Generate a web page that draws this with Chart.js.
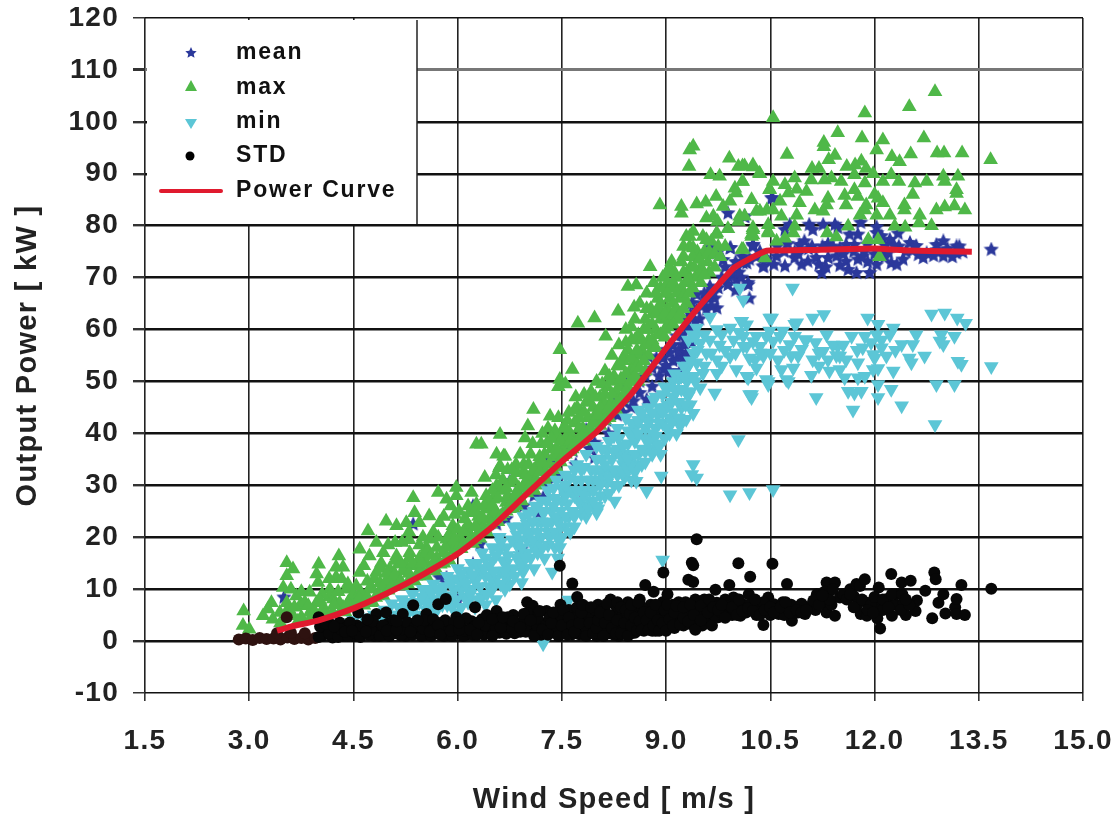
<!DOCTYPE html>
<html>
<head>
<meta charset="utf-8">
<title>Wind turbine power curve</title>
<script src="https://cdn.jsdelivr.net/npm/chart.js@4"></script>
<style>
    html, body { margin: 0; padding: 0; background: #fff; }
    canvas { display: block; }
</style>
</head>
<body>
<canvas id="powerChart" width="1117" height="819"></canvas>
<script>
// 坐标轴
var xTicks = ['1.5', '3.0', '4.5', '6.0', '7.5', '9.0', '10.5', '12.0', '13.5', '15.0'];
var yTicks = [-10, 0, 10, 20, 30, 40, 50, 60, 70, 80, 90, 100, 110, 120];
var legendNames = ['mean', 'max', 'min', 'STD', 'Power Curve'];

// 功率曲线
var curveX = [3.4, 3.6, 4.0, 4.5, 5.0, 5.5, 6.0, 6.5, 7.0, 7.5, 8.0, 8.5, 9.0, 9.45, 9.97, 10.2, 10.45, 10.6, 11.0, 12.0, 12.5, 13.4];
var curveY = [2.0, 2.8, 4.0, 6.3, 9.3, 12.8, 16.8, 22, 28.4, 34.6, 40.3, 47.6, 56.4, 64, 71.8, 73.6, 75.2, 75.2, 75.3, 75.6, 75.2, 75];

// mean 散点
var meanPoints = [
    [3.5,8.4],[5.36,22.5],[5.74,12.2],[5.84,12.2],[6,7.8],[6.22,26],[6.22,19.3],[6.32,18.6],[6.22,14.8],[6.56,22.5],[6.75,30.8],[6.87,28],[6.92,17.7],
    [6.9,27.9],[6.99,29.8],[7.16,24.7],[7.23,27.6],[7.1,31],[7.3,35],[7.4,34.3],[7.52,29.2],[7.66,36.6],[7.55,37],[7.75,39],[7.81,28.6],[7.85,40.7],
    [7.97,35.3],[7.97,38.2],[8.05,42],[8.17,40],[8.24,44.9],[8.3,46.5],[8.38,44],[8.43,50],[8.53,46.2],[8.55,51],[8.62,47.8],[8.72,46.5],[8.74,54.8],
    [8.7,51],[8.8,49],[8.86,54.5],[8.9,51],[8.96,52.3],[9.01,56.1],[9.05,52],[9.1,54],[9.15,54.2],[9.15,58.7],[9.2,55.5],[9.2,52],[9.25,57],[9.3,60],
    [9.37,57.4],[9.39,60],[9.3,62],[9.37,65.1],[9.44,63.8],[9.44,66.7],[9.58,63.8],[9.63,68.3],[9.73,64.1],[9.7,66],[9.63,75.7],[9.7,75],[9.73,74.7],
    [9.82,73.4],[9.89,68.6],[9.89,82.4],[9.93,75.7],[9.92,75.7],[9.9,70],[10.01,69.6],[10,67.5],[10.13,81.7],[10.11,72.8],[10.18,68.6],[10.2,66],[10.25,76],
    [10.25,76.3],[10.4,72.1],[10.53,85.3],[10.08,70],[10.18,69],[10.13,81.8],[10.16,72.8],[10.4,72.2],[10.4,73.8],[10.59,74.1],[10.71,72.2],[10.85,73.8],
    [11.04,73.1],[11.16,73.8],[11.33,73.8],[11.45,74.1],[11.59,73.1],[11.76,73.5],[11.83,74.1],[12.03,72.5],[12.24,72.8],[12.41,73.5],[12.63,74.4],
    [12.75,74.7],[12.99,74.1],[13.18,74.7],[13.27,74.9],[11.24,70.9],[11.62,71.5],[11.74,70.9],[11.93,70.9],[10.52,85.3],[11.06,80.2],[10.78,80.2],
    [11.26,80.2],[11.43,80.2],[11.47,79.6],[11.8,80.6],[12.03,79.7],[10.71,79.2],[11.11,79.2],[11.64,78.3],[11.76,78.3],[12.03,78.6],[12.1,78],[12.34,78.5],
    [12.22,77.3],[12.51,76.7],[10.25,76.3],[10.99,77],[10.92,76.3],[11.33,76.5],[11.59,76.3],[11.71,76.3],[12.99,77],[12.89,76.3],[13.18,76],[13.68,75.4],
    [10.7,75],[11.1,76],[11.5,75.6],[11.9,76.4],[12.15,76.2],[12.35,76],[12.55,75.2],[12.9,75.3],[10.9,74.5],[11.2,72.5],[11.5,72.3],[11.9,73],[12.15,74],[12.32,72.5],
    [8.95,54.5],[9,53],[9.05,55.5],[9.1,57],[9.1,51],[9.18,56],[9.22,59],[9.25,54.5],[9.28,58],[9.3,55.5],[9.33,60],[9.35,63],[9.42,61.5],[9.48,62],[9.52,65],[9.55,67],
    [9.6,66],[9.65,64.5],[9.68,67],[9.75,68],[9.8,70],[9.85,72],[9.95,71],[10,73],[10.05,71],[10.1,74],[10.2,73.5],[10.3,74],[10.35,75],[10.45,73.5],[10.55,72.5],[10.6,76],
    [10.75,76.5],[10.85,75],[10.95,72.5],[11.05,75.5],[11.25,76],[11.3,72],[11.4,76],[11.55,74.5],[11.7,75],[11.85,75],[12,74.5],[12.1,75],[12.2,74.8],[12.28,76.2],[12.45,75],
    [12.6,76.1],[12.7,73.8],[12.85,74.2],[13.05,75.5],[13.12,74],[13.22,76],[8.3,43.5],[8.5,45],[8.62,50],[8.8,52.5],[8.4,46],[8.15,42.5],[7.9,37],[7.7,34],[7.45,32],[7.3,30.5],
    [7.1,28],[6.95,26],[6.7,23.5]
];

// max 散点
var maxPoints = [
    [2.92,5.8],[2.91,3],[3,2.3],[3.2,4.9],[3.32,7.4],[3.27,6.2],[3.54,15.1],[3.63,13.9],[3.54,12.6],[3.49,10.3],[4,14.8],[3.97,12.9],[3.99,11.3],[4.29,16.4],
    [4.35,14.2],[4.25,14.2],[4.25,12.3],[4.33,12],[4.16,10],[3.87,9.4],[3.68,8.7],[3.54,7.4],[3.73,6.8],[3.97,7.4],[4.21,8.1],[4.4,10],[4.3,7.4],[4.06,6.2],
    [3.87,5.5],[3.63,4.9],[3.44,5.5],[3.34,4.2],[4.49,6.8],[4.64,8.1],[4.78,7.4],[4.93,8.7],[4.54,10.6],[4.73,10],[4.93,10.6],[5.12,11.3],[5.31,11.9],[5.6,13.9],
    [5.5,16.4],[5.79,17],[4.59,13.2],[4.73,16.4],[4.93,17],[5.12,16.4],[5.31,17],[4.83,13.2],[5.02,13.9],[5.21,13.5],[5.41,14.5],[4.59,17.7],[4.71,21.2],[4.83,19],
    [4.97,23.1],[5.12,22.2],[5.26,22.8],[5.36,27.6],[5.38,24.7],[5.45,22.8],[5.59,24.1],[5.74,22.8],[5.72,28.6],[5.84,27.3],[5.98,29.6],[5.98,28],[5.96,24.4],
    [6.2,28.6],[6.27,26.4],[5.93,22.2],[6.13,21.5],[5.84,19.6],[5.6,19.6],[6.27,37.9],[6.34,37.9],[6.56,36],[6.68,35.6],[6.6,33.4],[6.84,34],[6.94,32.4],[6.39,31.5],
    [6.56,29.9],[6.75,30.5],[6.51,27.3],[6.7,26.7],[6.41,25.4],[6.17,24.7],[6.56,24.1],[6.32,22.8],[6.41,28],[5.1,19],[5.3,19.5],[5.45,18.5],[4.9,15],[5.15,14.8],
    [5.7,16],[5.9,18.5],[6.05,19.5],[6.15,22.5],[6.3,21],[5.55,15],[6.61,39.8],[6.66,35.6],[6.61,33.7],[7.01,41.4],[6.97,39.1],[7.33,43.3],[7.09,44.6],
    [6.35,21.5],[6.5,24],[6.45,27],[6.62,29],[6.72,28],[6.8,27.5],[6.8,31],[6.88,29.5],[6.95,30],[6.95,34],[7.05,32],[7.05,36],[7.12,31],[7.15,34],[7.2,38],
    [7.25,36],[7.25,33],[7.3,41],[7.35,37],[7.38,35.5],[7.42,39],[7.45,43],[7.5,37],[7.52,41],[7.58,38],[7.6,44],[7.62,40],[7.68,42],[7.7,47],[7.72,38.5],
    [7.78,44],[7.8,41],[7.85,46],[7.88,43],[7.92,48],[7.95,45],[8,42.5],[8,50],[8.05,47],[8.1,44],[8.12,52],[8.15,49],[8.2,46],[8.22,55],[8.25,51],[8.28,48],
    [8.32,57],[8.35,53],[8.38,50],[8.42,60],[8.45,56],[8.48,52],[8.5,58],[8.55,62],[8.55,54],[8.6,59],[8.62,65],[8.65,56],[8.7,62],[8.72,67],[8.75,58],[8.78,64],
    [8.82,69],[8.85,60],[8.88,66],[8.92,62],[8.95,70],[8.98,67],[9.02,64],[9.05,72],[9.08,68],[9.12,62],[9.15,70],[9.2,66],[9.22,73],[9.28,69],[9.3,65],[9.35,72],
    [9.42,70],[9.45,75],[9.5,72],[9.6,73],[9.65,77],[7.47,56.1],[7.65,52.3],[7.47,50.4],[7.45,49],[7.55,49.5],[7.73,61.2],[7.97,62.2],[8.13,58.7],[8.31,63.5],[8.54,64.3],
    [8.45,68.3],[8.57,68.6],[8.77,72.1],[9.01,70.9],[9.08,73.1],[9.29,77.9],[9.34,76],[9.58,77.3],[9.73,78.6],[10.25,78.2],
    [9.39,95.3],[9.34,94.6],[9.33,91.4],[9.91,93],[10.04,91.4],[10.13,91.5],[10.25,91.7],[9.64,89.8],[9.77,89.5],[10.34,90.1],[10.1,88.5],[10.54,88.5],[8.91,84],
    [9.22,83.7],[9.22,82.4],[9.44,84.2],[9.57,84.5],[9.72,85.6],[9.99,87.2],[10.01,86.3],[10.23,85],[10.49,86.9],[9.92,84.7],[9.82,83.7],[10.3,82.8],[10.45,83],
    [10.06,81.8],[10.04,80.8],[9.68,81.8],[9.58,81.5],[9.74,80.8],[9.89,79.4],[10.25,79.2],[10.23,77.9],[9.39,78.9],[9.34,77.9],[9.53,77.9],[9.72,78.3],[9.25,76],
    [9.39,75.7],[9.25,74.1],[9.59,74.4],[10.09,75.4],[10.47,78.9],
    [12.87,105.8],[12.5,102.9],[11.86,101.7],[10.54,100.8],[11.47,97.9],[11.82,96.9],[12.12,96.5],[12.71,96.9],[11.27,96],[11.27,95.2],[12.03,94.6],[10.74,93.7],
    [11.43,93.5],[11.34,92.7],[12.25,93.3],[12.36,92.3],[12.52,93.8],[12.9,94],[13,94],[13.26,94],[13.67,92.7],[10.1,91.5],[10.25,91.3],[11.1,91],[11.2,91],
    [11.6,91.4],[11.72,91.7],[11.81,92.4],[11.88,91],[10.35,90],[11.98,90],[12.24,89.8],[10.1,88.5],[10.85,89.2],[11.09,88.8],[11.28,88.8],[11.38,89.2],[11.52,88.5],
    [11.71,89.8],[11.86,88.2],[12.12,88.5],[12.35,88.5],[12.58,88.2],[12.75,88.5],[12.99,89.5],[13.01,88.5],[13.2,89.5],[10.49,87],[10.71,87.9],[10.76,86.3],[10.88,87],
    [11.02,86.6],[11.71,86.9],[11.57,85.8],[11.76,85.6],[12,86],[12.55,86],[13.18,86.9],[13.18,86.2],[10.64,84.7],[10.92,84.4],[11.33,85.3],[11.31,84],[11.59,84],
    [11.88,84],[12.05,85.3],[12.12,84.4],[12.43,84],[10.35,82.8],[10.54,83],[11.14,83],[11.26,82.8],[11.86,83],[12.43,83],[12.89,83],[13.01,83.6],[13.15,83.8],[13.3,83],
    [10.13,81.8],[10.66,81.8],[10.88,82],[11.79,82],[12.03,82],[12.22,82],[12.65,82],[12.64,80.5],[10.25,79.6],[10.47,80.2],[10.85,79.9],[10.23,78.3],[10.47,78.6],
    [10.83,78.6],[10.71,77.6],[11.62,79.9],[12.29,79.9],[12.44,79.7],[12.82,80],[11.32,78.6],[11.45,77.8],[10.59,77],[10.11,75.4],[12.07,74],[12.05,77.3],[11.91,77.3],[10.42,73.8],
    [3.45,3.5],[3.55,6],[3.75,4.6],[3.8,7.5],[3.95,5.5],[4.1,5.8],[4.15,8.5],[4.05,9],[4.35,6.5],[4.45,8],[4.5,9],[4.42,11],[4.15,12],[3.6,10],[3.75,9.5],
    [4.6,9.5],[4.7,11.5],[4.85,9],[4.8,12],[4.65,14.5],[4.9,14],[5,9.8],[5.05,12],[5.2,10.6],[5.25,14.5],[5.3,16],[5.4,12.5],[5.45,16],[5.5,13.5],[5.65,15],[5.7,18],[5.75,14.8],
    [5.85,16],[5.95,17.5],[5.9,21],[6,19],[6.05,17.8],[6.1,23.5],[6.2,20],[6.25,19.5],[6.3,24],[6.4,21.5],[5.5,20],[5.2,19],[5,18.5],[5.65,21],[5.8,24],[5.9,26],[5.55,18],[5.3,21],
    [6.45,23.5],[6.55,25],[6.55,32],[6.65,24.5],[6.65,31],[6.72,33],[6.8,25.5],[6.9,27.5],[6.85,32.5],[6.9,36],[7,28.5],[7,31],[7.08,29.5],[7.08,38],[7.15,30.5],[7.18,35.5],[7.22,40],
    [7.28,31.5],[7.32,34],[7.38,33],[7.4,40.5],[7.45,36],[7.5,35.5],[7.55,39],[7.58,42.5],[7.65,37],[7.72,45],[7.75,41],[7.82,38.5],[7.88,40.5],[7.9,46],[8,44],[8.05,41.5],[8.08,49.5],
    [8.1,46],[8.18,43],[8.18,51],[8.25,45],[8.3,53],[8.32,49],[8.38,47],[8.4,55],[8.45,49],[8.5,52],[8.55,58],[8.6,50],[8.6,55],[8.68,60],[8.7,52],[8.75,55],[8.8,61],[8.82,57],[8.88,59],
    [8.9,64],[8.92,68],[8.98,60],[9,62],[9.05,66],[9.1,65],[9.12,71],[9.18,62],[9.22,68],[9.3,71],[9.38,68],[9.38,74],[9.5,69],[9.55,75],[9.62,71],[9.7,72],[9.75,76],
    [3.5,4.6],[3.65,6.5],[3.7,3.8],[3.85,6.8],[3.9,4.8],[4.02,7.8],[4.08,4.9],[4.2,5.6],[4.22,7],[4.28,9.5],[4.38,5.6],[4.42,7.4],[4.55,7],[4.58,8.2],[4.65,6.9],[4.7,8.5],[4.75,10.5],[4.82,8.4],
    [4.88,11.2],[4.98,11.8],[4.98,13],[5.05,10.5],[5.1,12.8],[5.1,15.5],[5.18,11.5],[5.18,15],[5.28,11],[5.3,13],[5.35,15],[5.38,11.5],[5.45,13.2],[5.48,15],[5.55,12.5],[5.55,17],[5.62,14],
    [5.62,16.5],[5.7,13.5],[5.72,20],[5.8,15],[5.82,18],[5.88,15.5],[5.88,20],[5.95,19.5],[6,17.8],[6,21.5],[6.02,25],[6.08,18.5],[6.08,21],[6.15,19],[6.15,26],[6.22,18.8],[6.25,22],[6.25,25],
    [6.32,19.8],[6.35,24],[6.38,26],[6.42,21],[6.48,22.5],[6.5,26],[6.5,29],[6.58,23],[6.58,27.5],[6.62,24],[6.7,25],[6.7,29.5],[6.75,26],[6.78,33],[6.85,26],[6.85,28.5],[6.92,27],[6.98,32],
    [7.02,29.5],[7.02,34],[7.1,29],[7.1,33],[7.18,30],[7.18,32.5],[7.25,31],[7.22,34.5],[7.28,38],[7.35,32],[7.35,39],[7.42,33.5],[7.42,37],[7.48,34.5],[7.48,38.5],[7.55,36],[7.55,41],[7.62,36.5],
    [7.62,38.5],[7.68,38],[7.68,44.5],[7.75,39],[7.75,43],[7.82,40],[7.82,44],[7.82,47.5],[7.9,41],[7.95,42],[7.98,47],[8.02,43.5],[8.05,45],[8.12,42.5],[8.12,47.5],[8.18,45],[8.22,47.5],[8.22,50],
    [8.28,44.5],[8.3,46],[8.35,46.5],[8.35,50.5],[8.38,54],[8.42,48],[8.42,51.5],[8.42,57.5],[8.48,50],[8.5,54.5],[8.5,60.5],[8.55,51],[8.58,53],[8.58,56],[8.62,52.5],[8.65,58],[8.68,54],[8.72,57],
    [8.72,60],[8.72,64],[8.8,58],[8.8,63],[8.85,56.5],[8.85,63],[8.85,67],[8.92,59],[8.92,65],[8.98,63],[8.98,58.5],[9.02,60.5],[9.02,67],[9.02,69],[9.1,61],[9.1,63],[9.1,69],[9.15,64],[9.15,67],
    [9.2,63],[9.25,64],[9.25,66.5],[9.25,71],[9.33,67],[9.33,69.5],[9.4,72],[9.48,70.5],[9.48,73.5],[9.55,70.5],[9.62,75],[9.7,74.5],[9.78,74],[9.85,76]
];

// min 散点
var minPoints = [
    [4.3,3],[4.5,4],[4.65,4.5],[4.8,5],[4.95,6],[5.05,7.2],[5.1,5],[5.2,8],[5.3,6],[5.35,9],[5.45,7.5],[5.5,10],[5.6,8],[5.65,11],[5.7,6],[5.75,9],[5.85,12.5],[5.85,7],
    [5.95,10],[6,14],[6,5.5],[6.1,12],[6.1,8.5],[6.2,15],[6.2,10],[6.25,6.5],[6.3,12.5],[6.35,17],[6.35,8.5],[6.45,14.5],[6.45,10.5],[6.5,18],[6.55,12],[6.55,8],[6.6,20],
    [6.65,15.5],[6.7,18],[6.75,11],[6.75,13],[6.8,22],[6.85,16],[6.9,19.5],[6.95,14],[6.95,24],[7,17],[7.05,21],[7.1,25],[7.1,14],[7.15,19],[7.2,27],[7.2,23],[7.25,16],
    [7.3,21],[7.3,29],[7.35,25],[7.4,18],[7.42,31],[7.45,23],[7.5,27],[7.5,20],[7.55,32],[7.6,24],[7.62,29],[7.68,22],[7.72,34],[7.75,27],[7.78,31],[7.85,24],[7.85,36],
    [7.9,29],[7.92,33],[8,26],[8,37.5],[8.02,31],[8.08,35],[8.12,28],[8.18,38.5],[8.2,33],[8.25,30],[8.3,37],[8.3,41],[8.38,34],[8.42,43],[8.45,38],[8.5,31],[8.52,36],
    [8.55,41],[8.6,44.5],[8.65,34],[8.7,39],[8.72,43],[8.78,37],[8.82,46.5],[8.85,41],[8.9,45],[8.92,36],[8.98,39],[9.02,48.5],[9.05,43],[9.1,47],[9.15,40],[9.18,50.5],
    [9.22,45],[9.28,48],[9.32,53],[7.23,-0.5],[7.6,7.9],[7.47,18],[7.44,16],[7.36,13.3],[6.94,13.3],[6.92,11.3],[8.95,15.6],[8.57,33.7],[8.57,30.8],[8.72,28.9],[8.26,27],
    [8,24.7],[9.92,28.2],[10.2,28.6],[10.54,29.2],[10.04,38.8],[9.39,34],[9.37,32.1],[9.44,31.4],[8.93,31.8],[9.2,41.4],[9.29,42.7],[9.39,43.9],[9.32,47.2],[9.7,47.8],
    [9.49,48.8],[10.23,47.5],[9.53,51.6],[9.73,51.6],[9.44,53.6],[9.29,52.3],[9.2,51],[9.39,55.5],[9.58,55.5],[9.73,54.2],[9.92,54.8],[10.01,52.3],[10.16,51],[10.44,50.4],
    [10.73,50.4],[9.32,58],[9.49,57.4],[9.63,58],[9.77,57],[9.97,58],[10.11,56.8],[10.25,57.7],[10.44,58.7],[10.64,58.7],[9.73,60],[9.92,60.3],[9.44,60.3],[9.63,62.4],
    [10.09,61.6],[10.16,60.9],[10.49,62.2],[10.85,61],[10.06,68],[10.11,65.7],[10.82,68],[10.52,62.2],[10.88,61.3],[11.11,62.2],[11.27,62.9],[11.9,62.2],[12.82,63],[13.01,63.2],
    [13.19,62.2],[13.31,61.2],[10.08,61.6],[12.05,61],[12.27,60.3],[10.11,58.7],[10.3,58.7],[10.49,59.7],[10.68,59.7],[10.85,58.7],[11.02,58.1],[11.31,59],[11.47,56.8],
    [11.67,58.7],[11.86,58.7],[12.03,59],[12.22,59],[12.6,59],[12.96,59],[13.15,58.7],[10.16,56.8],[10.35,56.8],[10.54,57.8],[10.78,57.1],[10.95,56.2],[11.26,55.8],[11.5,54.9],
    [11.83,56.5],[12.1,56.5],[12.39,57.1],[12.55,57.1],[12.94,57.8],[12.99,57.1],[10.28,54.2],[10.4,54.9],[10.61,54.2],[10.9,54.9],[11.11,54.2],[11.33,54.2],[11.59,54.2],
    [11.76,53.6],[11.98,55.2],[12.17,54.9],[12.5,54.5],[12.72,54.9],[13.2,53.9],[13.25,53.3],[13.68,52.9],[10.3,52.6],[10.18,50.7],[10.47,50],[10.66,52.3],[10.76,50],[10.83,52.6],
    [11.09,51.2],[11.35,52],[11.57,50.7],[11.76,50.7],[11.86,51],[11.98,52.3],[12.27,52],[12.53,53.6],[10.47,49.4],[12.05,49.4],[12.24,48.5],[12.89,49.4],[13.15,49.4],[10.2,47.5],
    [10.23,46.9],[11.16,46.9],[11.62,48.1],[11.71,47.8],[11.81,48.1],[12.05,46.9],[12.39,45.3],[11.69,44.5],[12.87,41.7],
    [4.15,2.5],[4.4,3],[4.6,3.2],[4.75,3.6],[4.9,4],[5,5],[5.15,6.5],[5.25,4.5],[5.25,7.5],[5.4,5],[5.55,6],[5.55,9],[5.6,10],[5.7,8],[5.8,10.5],[5.9,8.5],[5.95,12],[6.05,10],[6.05,6.5],
    [6.15,7.5],[6.15,13.5],[6.25,11.5],[6.3,14],[6.4,7],[6.4,12.5],[6.4,16],[6.5,10],[6.5,15.5],[6.6,13.5],[6.6,17.5],[6.7,12],[6.7,15],[6.8,14],[6.85,18.5],[6.9,22],[6.9,16.5],[7,19.5],
    [7,22.5],[7.05,16],[7.1,18],[7.15,23],[7.2,20],[7.25,25],[7.3,18.5],[7.35,23],[7.4,21],[7.4,27.5],[7.48,25],[7.5,29.5],[7.55,22],[7.58,26.5],[7.65,25],[7.68,28],[7.7,31],[7.78,24.5],
    [7.8,29],[7.82,33.5],[7.9,27],[7.95,31],[8,35],[8.05,28],[8.1,33],[8.15,30.5],[8.15,36.5],[8.22,35],[8.3,32],[8.32,39],[8.4,36],[8.4,31.5],[8.45,40.5],[8.5,34],[8.55,38.5],[8.6,36],
    [8.62,42.5],[8.7,36.5],[8.7,41],[8.75,45],[8.8,40],[8.85,38],[8.88,43.5],[8.95,47.5],[8.95,42],[9.05,40],[9,45],[9.1,44],[9.1,50],[9.15,48],[9.2,42.5],[9.25,53],[9.3,50],[9.35,45.5],
    [9.4,51],[9.45,56],[9.38,59],[9.55,59],[9.55,53],[9.65,55.5],[9.85,56],[9.8,53],[9.8,59],[10,55.5],[10.05,59.5],[10.2,54.5],[10.35,55.5],[10.5,55.5],[10.7,56],[10.8,55],[11,58],
    [11.15,57.5],[11.2,55.5],[11.4,57],[11.45,55],[11.55,57],[11.75,56],[11.95,57.5],[12,54.5],[12.1,58],[12.3,56],[12.05,52.5],[11.5,52.3],[11.2,53],
    [4.45,3.5],[4.55,3],[4.7,4],[4.85,3.6],[4.95,4.6],[5.02,4.2],[5.12,4.8],[5.18,6],[5.32,7.5],[5.38,6.4],[5.45,4.8],[5.48,8.5],[5.55,7.2],[5.62,9.2],[5.65,6.2],[5.72,10],[5.78,7],[5.82,8.8],
    [5.9,11],[5.92,6.5],[5.98,8],[6.02,11.5],[6.05,13],[6.12,11],[6.18,9],[6.22,12.8],[6.28,15],[6.3,8],[6.32,10.5],[6.38,14],[6.42,9],[6.48,12],[6.52,13.5],[6.55,16.5],[6.62,11],[6.62,19],
    [6.68,10],[6.68,13.5],[6.72,16.5],[6.78,19.5],[6.82,12.5],[6.85,20.5],[6.92,14.8],[6.92,18],[6.98,21],[6.98,16],[7.02,24.5],[7.08,19.5],[7.08,23],[7.12,26],[7.15,17],[7.15,21],[7.22,18],[7.22,25],
    [7.28,22.5],[7.28,27],[7.32,20],[7.38,26],[7.38,29.5],[7.42,24],[7.45,19.5],[7.48,22],[7.55,24],[7.55,28],[7.55,30],[7.62,21],[7.62,31.5],[7.68,24],[7.68,33],[7.72,29],[7.78,26],[7.78,33],
    [7.82,28],[7.88,31],[7.88,25.5],[7.95,27],[7.95,29],[7.98,33],[8.02,25.5],[8.05,30],[8.08,32],[8.08,37],[8.12,34],[8.18,28.5],[8.18,31.5],[8.25,33],[8.25,36.5],[8.25,39.5],[8.32,30],[8.35,35.5],
    [8.38,37.5],[8.38,32.5],[8.45,33],[8.45,35],[8.5,39.5],[8.5,42],[8.55,32.5],[8.55,36],[8.6,40],[8.6,42.5],[8.65,37],[8.65,44],[8.7,34.5],[8.75,38.5],[8.75,42],[8.8,36],[8.8,44],[8.85,39.5],[8.85,47],
    [8.9,37.5],[8.9,42],[8.95,44],[8.98,49],[9.02,41],[9.02,45.5],[9.08,42],[9.08,46],[9.12,48.5],[9.12,51.5],[9.18,43],[9.18,46],[9.22,48.5],[9.22,51],[9.28,45.5],[9.28,50.5],[9.35,48],[9.35,54],[9.42,50],[9.42,58.5]
];

// STD 散点
var stdPoints = [
    [2.85,0.3],[2.95,0.5],[3.05,0.2],[3.15,0.6],[3.25,0.4],[3.35,0.5],[3.45,0.3],[3.55,0.7],[3.65,0.4],[3.75,0.6],[3.85,0.3],[3.95,0.6],[3.4,1.5],[3.54,4.6],[3.6,1.6],[3.8,1.5],
    [4,4.6],[4.05,1],[4.1,2.4],[4.2,0.7],[4.25,2],[4.3,3.6],[4.35,1],[4.4,2.6],[4.5,1],[4.57,5.5],[4.55,3],[4.65,1.4],[4.7,3.3],[4.8,1],[4.83,5.2],[4.85,2.8],[4.97,5.5],
    [4.95,1.2],[5,3.4],[5.1,1.5],[5.15,3],[5.21,5.2],[5.25,1],[5.3,2.6],[5.36,6.9],[5.4,1.4],[5.45,3.5],[5.55,5.2],[5.55,1.2],[5.6,3],[5.7,1.5],[5.72,7.1],[5.75,3.5],[5.83,8.1],
    [5.85,1.2],[5.9,2.8],[5.98,4.6],[6,1.4],[6.05,3],[6.15,1.3],[6.2,3.8],[6.25,6.5],[6.3,2],[6.35,4.2],[6.45,1.8],[6.5,3.2],[6.56,5.8],[6.6,1.6],[6.65,3.6],[6.75,2.2],
    [6.8,5],[6.9,1.8],[6.95,4],[7,7.5],[7.05,2.4],[7.1,5.5],[7.08,6.8],[7.2,1.2],[7.2,3.5],[7.28,5.8],[7.35,2],[7.4,3.8],[7.47,14.5],[7.48,7],[7.5,1.4],[7.55,5],[7.62,2.5],
    [7.65,11.1],[7.68,6],[7.72,8.5],[7.75,1.3],[7.8,4],[7.85,6.5],[7.9,2],[7.95,4.8],[8,1],[8.02,7],[8.08,3],[8.12,5.5],[8.18,1.5],[8.2,8],[8.25,3.5],[8.3,6],[8.32,1],[8.4,2.5],
    [8.42,4.5],[8.45,7.5],[8.5,1.5],[8.55,3.5],[8.58,6],[8.62,8],[8.7,10.8],[8.68,2],[8.75,4.5],[8.78,7],[8.82,9.5],[8.85,2],[8.9,5],[8.96,13.2],[8.95,7.5],[9,3],[9.02,9],
    [9.08,5.5],[9.12,2.5],[9.18,7.5],[9.22,4],[9.32,11.8],[9.3,6],[9.37,15.1],[9.39,14.6],[9.39,11.4],[9.35,3.3],[9.44,19.6],[9.42,8],[9.48,5],[9.52,3],[9.58,7],[9.62,4.5],
    [9.66,3],[9.71,9.9],[9.73,7.4],[9.75,4.6],[9.87,6.5],[9.91,10.8],[9.95,5],[9.97,8.4],[10.04,15],[10.07,4.9],[10.12,7],[10.19,9],[10.21,12.4],[10.26,7.4],[10.3,5],[10.4,3.1],
    [10.38,6.5],[10.47,8.4],[10.5,5],[10.53,14.9],[10.55,7.1],[10.62,5.2],[10.68,7.5],[10.74,11],[10.74,6.5],[10.81,3.9],[10.85,5.5],[10.93,6.8],[11,5.2],[11.07,6.5],[11.17,9],
    [11.24,7.4],[11.31,11.3],[11.31,8.7],[11.31,5.5],[11.43,11.3],[11.43,4.9],[11.38,7],[11.5,8.4],[11.65,10],[11.7,8.7],[11.74,11],[11.75,7],[11.79,10.6],[11.86,11.9],
    [11.8,5.2],[11.89,7.4],[11.89,4.9],[12.03,7.1],[12.04,4.4],[12.06,10.3],[12.08,2.4],[12.12,6],[12.18,8.1],[12.24,12.9],[12.25,4.9],[12.3,7],[12.32,9],[12.39,11.3],
    [12.42,7.4],[12.45,5],[12.52,11.6],[12.59,5.8],[12.61,7.8],[12.73,9.7],[12.83,4.4],[12.86,13.2],[12.88,11.9],[12.92,7.4],[12.99,9],[13.02,5.3],[13.16,6.5],[13.18,8.1],
    [13.18,5.2],[13.25,10.8],[13.3,5],[13.68,10.1],
    [4,0.8],[4.02,2.8],[4.15,1.5],[4.15,3.5],[4.28,0.8],[4.32,2.3],[4.42,1],[4.45,3.6],[4.52,1.6],[4.6,2.5],[4.6,0.8],[4.72,1.2],[4.75,2.2],[4.78,3.8],[4.88,1],[4.92,3],[5.02,1],[5.05,2.5],
    [5.08,4],[5.18,1.1],[5.2,2.3],[5.28,3.6],[5.35,1.2],[5.38,2.6],[5.48,1],[5.5,2.4],[5.52,4],[5.62,1],[5.65,4.2],[5.68,2.3],[5.8,1],[5.8,2.5],[5.82,4],[5.92,1],[5.95,3.6],[6.08,1],[6.1,2],
    [6.12,4.4],[6.22,1.2],[6.25,2.8],[6.38,1.2],[6.4,3],[6.42,5],[6.52,1.5],[6.55,2.6],[6.58,4.2],[6.7,1.4],[6.72,2.8],[6.72,4.6],[6.82,1.5],[6.85,3.2],[6.98,1.8],[7,3.2],[7,5.4],[7.12,1.5],
    [7.15,2.8],[7.15,4.4],[7.25,1.5],[7.27,3],[7.32,4.5],[7.42,1.5],[7.45,2.6],[7.48,5],[7.55,2],[7.58,3.4],[7.6,6],[7.65,1.3],[7.7,3],[7.7,4.6],[7.72,6.5],[7.82,1.2],[7.85,2.6],[7.88,5.2],
    [7.95,3],[7.98,6],[8.05,1.5],[8.05,4],[8.1,6.2],[8.15,2.5],[8.22,4.5],[8.25,1.2],[8.28,6.8],[8.35,3],[8.38,5.5],[8.45,2],[8.48,4],[8.52,6],[8.55,1.6],[8.6,2.8],[8.65,4.5],[8.65,6.5],
    [8.72,2.8],[8.72,5.5],[8.8,2],[8.8,3.5],[8.85,5.5],[8.9,3],[8.92,6.5],[8.98,4.5],[9.05,3.2],[9.05,5.5],[9.1,7],[9.15,3.8],[9.2,5.5],[9.25,3],[9.28,7.5],[9.35,5],[9.4,3.5],[9.45,6.5],
    [9.55,5],[9.55,8],[9.65,6],[9.7,5],[9.8,5.5],[9.85,8],[9.92,6.8],[10,7],[10.05,6],[10.15,5.5],[10.2,7],[10.32,6],[10.4,7.5],[10.45,5.5],[10.6,6.2],[10.7,5],[10.8,7],[10.9,5.5],[10.95,7.2],
    [11.1,7],[11.15,6],[11.2,8.5],[11.28,9.5],[11.35,8],[11.4,10],[11.55,9],[11.6,8],[11.65,9],[11.7,6.5],[11.82,8],[11.95,7],[11.9,6],[11.98,5.5],[12,8.5],[12.12,8],[12.2,6.5],[12.25,9],
    [12.38,6],[12.4,9],[12.5,7],[12.45,8],
    [6.78,2.4],[6.9,3.5],[6.95,5.2],[7.05,4],[7.1,1],[7.18,5.8],[7.22,2.2],[7.3,1.2],[7.35,3.5],[7.38,5.5],[7.45,1],[7.5,3],[7.52,6],[7.58,1.2],[7.6,4.5],[7.65,3],[7.68,1.8],[7.75,3.5],[7.78,5.5],[7.8,7],
    [7.85,1],[7.9,3.5],[7.92,6.5],[7.95,1.5],[8,2.5],[8.02,4],[8.05,5.5],[8.1,1],[8.12,3.5],[8.15,7.2],[8.18,5],[8.22,2.5],[8.28,1.5],[8.3,4],[8.3,7.5],[8.35,1.5],[8.35,6.5],[8.4,3.5],[8.42,6],[8.45,1],
    [8.48,5.2],[8.5,3],[8.5,7],[8.55,4.5],[8.58,2],[8.6,7.5],[8.62,3.8],[8.65,2.2],[8.68,5.5],[8.72,4],[8.75,2.2],[8.78,5.5],[8.82,3],[8.85,7],[8.88,4],[8.9,2],[8.95,3.5],[8.98,6],[9,2],[9.02,7],[9.05,4.2],
    [9.1,3],[9.12,5.5],[9.15,6.8],[9.2,3.2],[9.25,4.5],[9.25,6.5],[9.32,3.8],[9.35,7],[9.4,5],[9.42,2.2],[9.5,4],[9.5,6.8],[9.6,5.5],[9.62,8],[9.68,6.5],[9.75,6],[9.8,7],[9.85,4.5],[9.95,6.5],[10.02,5],
    [10.05,8],[10.1,5.8],[10.18,6.3],[10.25,5.8],[10.28,8],[10.35,5],[10.42,6],[10.5,6.5],[10.55,5.5],[10.65,6.5],[10.72,7.5],[10.78,5.5],[10.88,6],[10.95,5.5],[11.02,6],[11.12,7.8],[11.2,7],[11.25,8.8],
    [4.1,3.4],[4.22,2.8],[4.38,1.8],[4.48,2],[4.68,1.8],[4.7,4.2],[4.98,2],[5.12,2.2],[5.12,3.8],[5.32,1.8],[5.42,4],[5.6,1.8],[5.72,3],[5.75,1.2],[5.9,2],[6.02,2.2],[6.02,3.6],[6.18,2.2],[6.28,1.2],
    [6.3,3.6],[6.5,4.2],[6.5,1],[6.62,2.6],[6.65,4.6],[6.8,3.8],[6.9,2.6]
];

// 转成 Chart.js 用的点
function toXY(list) {
    return list.map(function (p) { return { x: p[0], y: p[1] }; });
}

// 五角星点样式
function makeStar(size, color) {
    var c = document.createElement('canvas');
    c.width = size;
    c.height = size;
    var g = c.getContext('2d');
    g.fillStyle = color;
    g.beginPath();
    for (var i = 0; i < 10; i++) {
        var r = i % 2 === 0 ? size / 2 : size / 4.2;
        var a = -Math.PI / 2 + i * Math.PI / 5;
        g.lineTo(size / 2 + r * Math.cos(a), size / 2 + r * Math.sin(a));
    }
    g.closePath();
    g.fill();
    return c;
}

var starImage = makeStar(16, '#2b389b');
var legendStar = makeStar(12, '#2b389b');

// 图表文字的字距，参考图比默认略宽
var spacingPlugin = {
    id: 'textSpacing',
    beforeDraw: function (chart) {
        chart.ctx.letterSpacing = '1.3px';
    }
};

// 图例画在绘图区左上角，遮住网格
var legendPlugin = {
    id: 'boxLegend',
    afterDraw: function (chart) {
        var ctx = chart.ctx;
        var rowY = [53, 88, 122, 156, 191];
        ctx.save();
        ctx.fillStyle = '#fff';
        ctx.fillRect(147, 20, 270, 204);
        ctx.strokeStyle = '#222';
        ctx.lineWidth = 1.5;
        ctx.beginPath();
        ctx.moveTo(417, 20);
        ctx.lineTo(417, 224);
        ctx.stroke();

        ctx.drawImage(legendStar, 185, rowY[0] - 6);
        ctx.fillStyle = '#4fb848';
        ctx.beginPath();
        ctx.moveTo(191, rowY[1] - 8);
        ctx.lineTo(197, rowY[1] + 3);
        ctx.lineTo(185, rowY[1] + 3);
        ctx.fill();
        ctx.fillStyle = '#5cc6d6';
        ctx.beginPath();
        ctx.moveTo(185, rowY[2] - 3);
        ctx.lineTo(197, rowY[2] - 3);
        ctx.lineTo(191, rowY[2] + 7);
        ctx.fill();
        ctx.fillStyle = '#000';
        ctx.beginPath();
        ctx.arc(190, rowY[3], 4.5, 0, Math.PI * 2);
        ctx.fill();
        ctx.strokeStyle = '#e01a2e';
        ctx.lineWidth = 4;
        ctx.lineCap = 'round';
        ctx.beginPath();
        ctx.moveTo(161, rowY[4]);
        ctx.lineTo(221, rowY[4]);
        ctx.stroke();

        ctx.fillStyle = '#111';
        ctx.font = 'bold 23px "Liberation Sans"';
        ctx.textBaseline = 'middle';
        ctx.textAlign = 'left';
        ctx.letterSpacing = '1.8px';
        for (var i = 0; i < legendNames.length; i++) {
            ctx.fillText(legendNames[i], 236, rowY[i]);
        }
        ctx.restore();
    }
};

var ctx = document.getElementById('powerChart').getContext('2d');
var powerChart = new Chart(ctx, {
    type: 'scatter',
    data: {
        datasets: [
            {
                label: legendNames[4],
                data: curveX.map(function (x, i) { return { x: x, y: curveY[i] }; }),
                showLine: true,
                borderColor: '#e01a2e',
                borderWidth: 6,
                pointRadius: 0,
                tension: 0.15,
                order: 0
            },
            { label: legendNames[3], data: toXY(stdPoints), pointStyle: 'circle', pointRadius: 6, backgroundColor: function (c) { return c.raw && c.raw.x < 3.98 ? '#2e1210' : '#070707'; }, borderWidth: 0, order: 1 },
            { label: legendNames[2], data: toXY(minPoints), pointStyle: 'triangle', pointRotation: 180, pointRadius: 8.5, backgroundColor: '#5cc6d6', borderWidth: 0, order: 2 },
            { label: legendNames[1], data: toXY(maxPoints), pointStyle: 'triangle', pointRadius: 8.5, backgroundColor: '#4fb848', borderWidth: 0, order: 3 },
            { label: legendNames[0], data: toXY(meanPoints), pointStyle: starImage, backgroundColor: '#2b389b', order: 4 }
        ]
    },
    options: {
        responsive: false,
        animation: false,
        layout: { padding: { top: 18, right: 34, left: 0, bottom: 0 } },
        plugins: { legend: { display: false }, tooltip: { enabled: false } },
        scales: {
            x: {
                type: 'linear',
                min: 1.5,
                max: 15,
                afterFit: function (scale) {
                    scale.height = 126;
                    scale.paddingLeft = 0;
                    scale.paddingRight = 0;
                },
                afterBuildTicks: function (scale) {
                    scale.ticks = xTicks.map(function (t) { return { value: parseFloat(t) }; });
                },
                border: { display: false },
                grid: { color: '#222', lineWidth: 1.6, tickLength: 8, tickColor: '#333' },
                ticks: {
                    color: '#222',
                    padding: 23,
                    maxRotation: 0,
                    autoSkip: false,
                    font: { family: '"Liberation Sans"', size: 28, weight: 'bold' },
                    callback: function (v) { return Number(v).toFixed(1); }
                },
                title: {
                    display: true,
                    text: 'Wind Speed [ m/s ]',
                    color: '#222',
                    padding: { top: 0, bottom: 2 },
                    font: { family: '"Liberation Sans"', size: 29, weight: 'bold' }
                }
            },
            y: {
                min: -10,
                max: 120,
                afterFit: function (scale) {
                    scale.width = 145;
                    scale.paddingTop = 0;
                    scale.paddingBottom = 0;
                },
                afterBuildTicks: function (scale) {
                    scale.ticks = yTicks.map(function (t) { return { value: t }; });
                },
                border: { display: false },
                grid: {
                    color: function (c) { return c.tick && c.tick.value === 110 ? '#777' : '#111'; },
                    lineWidth: function (c) {
                        var v = c.tick ? c.tick.value : 0;
                        if (v === 120 || v === -10) return 1.5;
                        return v === 110 ? 3 : 2.4;
                    },
                    tickLength: 12,
                    tickColor: '#333'
                },
                ticks: {
                    color: '#222',
                    padding: 14,
                    autoSkip: false,
                    font: { family: '"Liberation Sans"', size: 28, weight: 'bold' }
                },
                title: {
                    display: true,
                    text: 'Output Power [ kW ]',
                    color: '#222',
                    padding: { top: 11, bottom: 0 },
                    font: { family: '"Liberation Sans"', size: 29, weight: 'bold' }
                }
            }
        }
    },
    plugins: [spacingPlugin, legendPlugin]
});
</script>
</body>
</html>
